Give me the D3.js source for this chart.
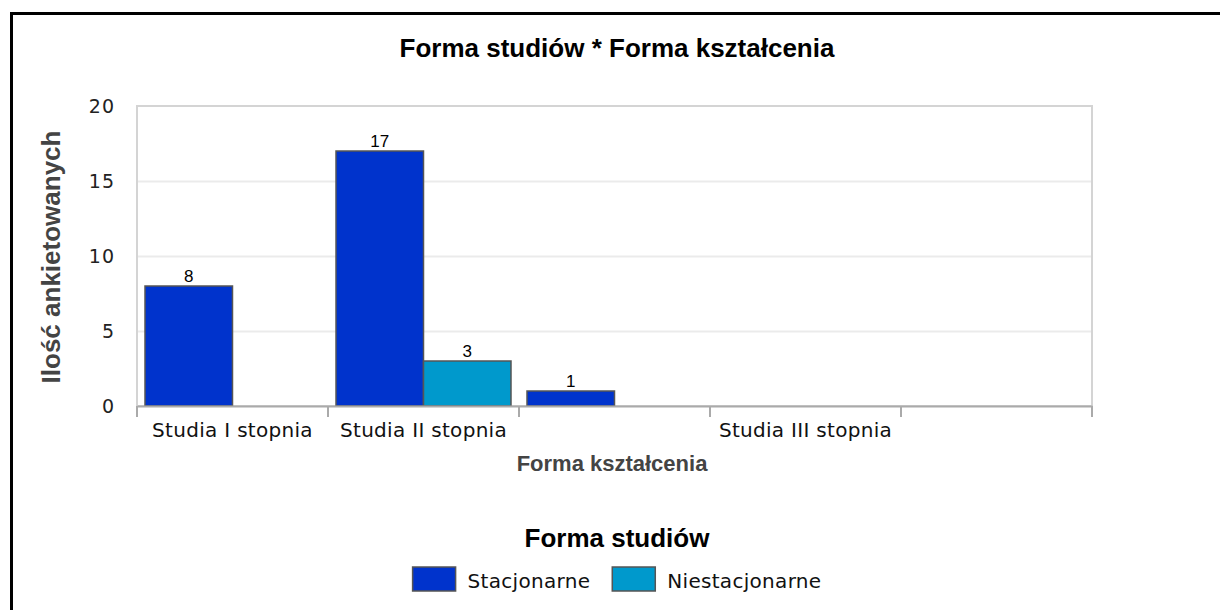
<!DOCTYPE html>
<html>
<head>
<meta charset="utf-8">
<script src="https://cdn.jsdelivr.net/npm/d3@7"></script>
<style>
	body { margin: 0; background: #fff; }
	svg { display: block; }
</style>
</head>
<body>
<div id="content"></div>
<script>
let WIDTH = 1220
let HEIGHT = 610

// chart data
let slots = ['s1', 's2', 's3', 's4', 's5']
let slotLabels = ['Studia I stopnia', 'Studia II stopnia', '', 'Studia III stopnia', '']
let seriesNames = ['Stacjonarne', 'Niestacjonarne']
let stacjonarne = [8, 17, 1, 0, 0]
let niestacjonarne = [0, 3, 0, 0, 0]
let yTicks = [0, 5, 10, 15, 20]

let COLORS = ['#0033cc', '#0099cc']

let plot = { left: 137, top: 106, right: 1092, bottom: 406 }

let svg = d3.select('#content').append('svg')
	.attr('width', WIDTH)
	.attr('height', HEIGHT)

// outer frame
svg.append('rect')
	.attr('x', 11.5)
	.attr('y', 13.5)
	.attr('width', WIDTH)
	.attr('height', HEIGHT)
	.attr('fill', 'none')
	.attr('stroke', '#000')
	.attr('stroke-width', 3)

svg.append('text')
	.attr('x', 617)
	.attr('y', 57)
	.attr('text-anchor', 'middle')
	.style('font', 'bold 26px "Liberation Sans", Arial, sans-serif')
	.style('fill', '#000')
	.text('Forma studiów * Forma kształcenia')

let x = d3.scaleBand()
	.domain(slots)
	.range([plot.left, plot.right])

let xInner = d3.scaleBand()
	.domain(seriesNames)
	.range([8, x.bandwidth() - 8])

let y = d3.scaleLinear()
	.domain([0, 20])
	.range([plot.bottom, plot.top])

// grid
svg.append('g')
	.selectAll('line')
	.data(yTicks.slice(1, -1))
	.enter().append('line')
		.attr('x1', plot.left)
		.attr('x2', plot.right)
		.attr('y1', (d) => { return y(d) + 0.5 })
		.attr('y2', (d) => { return y(d) + 0.5 })
		.attr('stroke', '#ebebeb')
		.attr('stroke-width', 2)

svg.append('rect')
	.attr('x', plot.left)
	.attr('y', plot.top)
	.attr('width', plot.right - plot.left)
	.attr('height', plot.bottom - plot.top)
	.attr('fill', 'none')
	.attr('stroke', '#d4d4d4')
	.attr('stroke-width', 2)

// y axis labels
let yAxis = d3.axisLeft(y)
	.tickValues(yTicks)
	.tickSize(0)
	.tickPadding(22)

svg.append('g')
	.attr('transform', `translate(${plot.left}, 0)`)
	.call(yAxis)
	.call((g) => { g.select('.domain').remove() })
	.selectAll('text')
		.style('font', '19px "DejaVu Sans", sans-serif')
		.style('letter-spacing', '1px')
		.style('fill', '#222')

// bars
let rows = slots.map((s, i) => {
	return { slot: s, values: [stacjonarne[i], niestacjonarne[i]] }
})

let groups = svg.append('g').selectAll('g.slot')
	.data(rows)
	.enter().append('g')
		.attr('class', 'slot')
		.attr('transform', (d) => { return `translate(${x(d.slot)}, 0)` })

let cells = groups.selectAll('g.bar')
	.data((d) => { return d.values.map((v, k) => { return { name: seriesNames[k], value: v, k: k } }).filter((e) => { return e.value > 0 }) })
	.enter().append('g')
		.attr('class', 'bar')

cells.append('rect')
	.attr('x', (d) => { return xInner(d.name) })
	.attr('y', (d) => { return y(d.value) })
	.attr('width', xInner.bandwidth())
	.attr('height', (d) => { return y(0) - y(d.value) })
	.attr('fill', (d) => { return COLORS[d.k] })
	.attr('stroke', '#555')
	.attr('stroke-width', 1.5)

cells.append('text')
	.attr('x', (d) => { return xInner(d.name) + xInner.bandwidth() / 2 })
	.attr('y', (d) => { return y(d.value) - 4 })
	.attr('text-anchor', 'middle')
	.style('font', '17px "Liberation Sans", Arial, sans-serif')
	.style('fill', '#000')
	.text((d) => { return d.value })

// x axis
let xAxis = d3.axisBottom(x)
	.tickFormat((d, i) => { return slotLabels[i] })
	.tickSize(0)
	.tickPadding(17)

let xg = svg.append('g')
	.attr('transform', `translate(0, ${plot.bottom})`)
	.call(xAxis)

xg.select('.domain')
	.attr('stroke', '#aaa')
	.attr('stroke-width', 2)

xg.selectAll('text')
	.style('font', '20px "DejaVu Sans", sans-serif')
	.style('letter-spacing', '0.3px')
	.style('fill', '#111')

xg.selectAll('line.sep')
	.data(slots.concat(['end']))
	.enter().append('line')
		.attr('class', 'sep')
		.attr('x1', (d) => { return d === 'end' ? plot.right : x(d) })
		.attr('x2', (d) => { return d === 'end' ? plot.right : x(d) })
		.attr('y1', 0)
		.attr('y2', 11)
		.attr('stroke', '#aaa')
		.attr('stroke-width', 2)

svg.append('text')
	.attr('x', 612)
	.attr('y', 471)
	.attr('text-anchor', 'middle')
	.style('font', 'bold 22px "Liberation Sans", Arial, sans-serif')
	.style('fill', '#444')
	.text('Forma kształcenia')

svg.append('text')
	.attr('transform', 'translate(60, 257) rotate(-90)')
	.attr('text-anchor', 'middle')
	.style('font', 'bold 26px "Liberation Sans", Arial, sans-serif')
	.style('fill', '#444')
	.text('Ilość ankietowanych')

// legend
svg.append('text')
	.attr('x', 617)
	.attr('y', 547)
	.attr('text-anchor', 'middle')
	.style('font', 'bold 26px "Liberation Sans", Arial, sans-serif')
	.style('fill', '#000')
	.text('Forma studiów')

let legend = svg.append('g')
let items = legend.selectAll('g.item')
	.data(seriesNames)
	.enter().append('g')
		.attr('class', 'item')

items.append('rect')
	.attr('x', 0)
	.attr('y', 567)
	.attr('width', 43)
	.attr('height', 24)
	.attr('fill', (d, i) => { return COLORS[i] })
	.attr('stroke', '#555')
	.attr('stroke-width', 1.5)

items.append('text')
	.attr('x', 55)
	.attr('y', 588)
	.style('font', '20px "DejaVu Sans", sans-serif')
	.style('letter-spacing', '0.3px')
	.style('fill', '#111')
	.text((d) => { return d })

let cursor = 0
items.each(function () {
	let w = this.getBBox().width
	d3.select(this).attr('transform', `translate(${cursor}, 0)`)
	cursor += w + 22
})
let total = cursor - 22
legend.attr('transform', `translate(${617 - total / 2}, 0)`)
</script>
</body>
</html>
